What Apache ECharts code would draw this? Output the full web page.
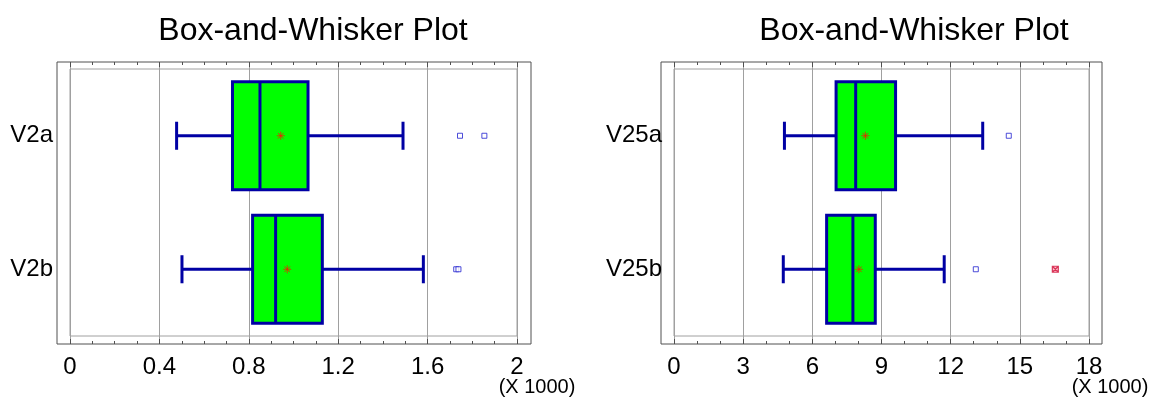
<!DOCTYPE html>
<html>
<head>
<meta charset="utf-8">
<script src="https://cdn.jsdelivr.net/npm/echarts@6/dist/echarts.min.js"></script>
<style>html,body{margin:0;padding:0;background:#fff}#c{width:1156px;height:397px}</style>
</head>
<body>
<div id="c"></div>
<script>
// ---- data (values in thousands) ----
const catsLeft = ['V2a', 'V2b'];
// [category index, lower whisker, Q1, median, Q3, upper whisker]
const boxLeft = [
  [0, 0.477, 0.727, 0.850, 1.065, 1.490],
  [1, 0.501, 0.817, 0.920, 1.129, 1.581]
];
const meanLeft = [[0.943, 'V2a'], [0.972, 'V2b']];
const outLeft = [[1.745, 'V2a'], [1.854, 'V2a'], [1.728, 'V2b'], [1.738, 'V2b']];
const farOutLeft = [];

const catsRight = ['V25a', 'V25b'];
const boxRight = [
  [0, 4.79, 7.03, 7.88, 9.61, 13.39],
  [1, 4.74, 6.62, 7.76, 8.73, 11.72]
];
const meanRight = [[8.30, 'V25a'], [8.02, 'V25b']];
const outRight = [[14.52, 'V25a'], [13.09, 'V25b']];
const farOutRight = [[16.54, 'V25b']];

const ticksLeft = {min: 0, max: 2, interval: 0.4, minorSplit: 4};
const ticksRight = {min: 0, max: 18, interval: 3, minorSplit: 3};

const titleText = 'Box-and-Whisker Plot';
const unitText = '(X 1000)';

// ---- styles ----
const FONT = '"Liberation Sans", Arial, sans-serif';
const BLUE = '#0000a4';
const GREEN = '#00ff00';
const GRIDC = '#a0a0a0';
const FRAMEC = '#505050';

function renderBox(params, api) {
  const cat = api.value(0);
  const lo = api.coord([api.value(1), cat]);
  const q1 = api.coord([api.value(2), cat]);
  const md = api.coord([api.value(3), cat]);
  const q3 = api.coord([api.value(4), cat]);
  const hi = api.coord([api.value(5), cat]);
  const band = api.size([0, 1])[1];
  const bh = band * 0.81, ch = band * 0.21;
  const y = lo[1];
  const ls = {stroke: BLUE, lineWidth: 3, fill: null};
  return {
    type: 'group',
    children: [
      {type: 'line', shape: {x1: lo[0], y1: y, x2: q1[0], y2: y}, style: ls},
      {type: 'line', shape: {x1: q3[0], y1: y, x2: hi[0], y2: y}, style: ls},
      {type: 'line', shape: {x1: lo[0], y1: y - ch / 2, x2: lo[0], y2: y + ch / 2}, style: ls},
      {type: 'line', shape: {x1: hi[0], y1: y - ch / 2, x2: hi[0], y2: y + ch / 2}, style: ls},
      {type: 'rect', shape: {x: q1[0], y: y - bh / 2, width: q3[0] - q1[0], height: bh},
        style: {fill: GREEN, stroke: BLUE, lineWidth: 3}},
      {type: 'line', shape: {x1: md[0], y1: y - bh / 2, x2: md[0], y2: y + bh / 2}, style: ls}
    ]
  };
}

const ASTER = 'path://M0,5L10,5M5,0L5,10M1.5,1.5L8.5,8.5M8.5,1.5L1.5,8.5';
const CROSSBOX = 'path://M0,0L10,0L10,10L0,10ZM0,0L10,10M10,0L0,10';

function panel(gi, xi, yi, frame, tk, cats, box, mean, out, farOut) {
  const grids = [
    {left: frame.left, top: 62, width: frame.width, height: 282, show: true,
      borderColor: FRAMEC, borderWidth: 1, backgroundColor: 'transparent', containLabel: false},
    {left: frame.plotLeft, top: 62, width: frame.plotWidth, height: 282, containLabel: false},
    {left: frame.plotLeft, top: 69, width: frame.plotWidth, height: 267, show: true,
      borderColor: GRIDC, borderWidth: 1, backgroundColor: 'transparent', containLabel: false}
  ];
  const xAxes = [
    {gridIndex: gi, type: 'value', show: false, min: 0, max: 1},
    {gridIndex: gi + 1, type: 'value', position: 'bottom', min: tk.min, max: tk.max, interval: tk.interval,
      axisLine: {show: false},
      axisTick: {show: true, inside: true, length: 5, lineStyle: {color: FRAMEC}},
      minorTick: {show: true, splitNumber: tk.minorSplit, length: 3, lineStyle: {color: FRAMEC}},
      splitLine: {show: true, lineStyle: {color: GRIDC, width: 1}},
      axisLabel: {fontSize: 24, color: '#000', fontFamily: FONT, margin: 11, showMinLabel: true, showMaxLabel: true}},
    {gridIndex: gi + 1, type: 'value', position: 'top', min: tk.min, max: tk.max, interval: tk.interval,
      axisLine: {show: false},
      axisTick: {show: true, inside: true, length: 5, lineStyle: {color: FRAMEC}},
      minorTick: {show: true, splitNumber: tk.minorSplit, length: 3, lineStyle: {color: FRAMEC}},
      splitLine: {show: false}, axisLabel: {show: false}},
    {gridIndex: gi + 2, type: 'value', show: false, min: tk.min, max: tk.max, interval: tk.interval}
  ];
  const yAxes = [
    {gridIndex: gi, type: 'value', show: false, min: 0, max: 1},
    {gridIndex: gi + 1, type: 'value', show: false, min: 0, max: 1},
    {gridIndex: gi + 2, type: 'category', data: cats, inverse: true,
      axisLine: {show: false}, axisTick: {show: false}, splitLine: {show: false},
      axisLabel: {fontSize: 24, color: '#000', fontFamily: FONT, margin: frame.labelMargin}}
  ];
  const series = [
    {type: 'custom', xAxisIndex: xi + 3, yAxisIndex: yi + 2, renderItem: renderBox,
      encode: {x: [1, 2, 3, 4, 5], y: 0}, data: box, z: 3},
    {type: 'scatter', xAxisIndex: xi + 3, yAxisIndex: yi + 2, data: mean, symbol: ASTER, symbolSize: 8,
      itemStyle: {color: 'transparent', borderColor: '#f02000', borderWidth: 1}, z: 5},
    {type: 'scatter', xAxisIndex: xi + 3, yAxisIndex: yi + 2, data: out, symbol: 'rect', symbolSize: 5,
      itemStyle: {color: '#ffffff', borderColor: '#2020d0', borderWidth: 1}, z: 5},
    {type: 'scatter', xAxisIndex: xi + 3, yAxisIndex: yi + 2, data: farOut, symbol: CROSSBOX, symbolSize: 6,
      itemStyle: {color: '#ffb0c0', borderColor: '#d0103a', borderWidth: 1.2}, z: 5}
  ];
  return {grids, xAxes, yAxes, series};
}

const L = panel(0, 0, 0, {left: 57, width: 474, plotLeft: 70, plotWidth: 447, labelMargin: 17},
  ticksLeft, catsLeft, boxLeft, meanLeft, outLeft, farOutLeft);
const R = panel(3, 4, 3, {left: 661, width: 441, plotLeft: 674, plotWidth: 415, labelMargin: 12},
  ticksRight, catsRight, boxRight, meanRight, outRight, farOutRight);

const option = {
  animation: false,
  backgroundColor: '#ffffff',
  title: [
    {text: titleText, left: 313, top: 15, textAlign: 'center', padding: 0,
      textStyle: {fontSize: 32, fontWeight: 'normal', color: '#000', fontFamily: FONT}},
    {text: titleText, left: 914, top: 15, textAlign: 'center', padding: 0,
      textStyle: {fontSize: 32, fontWeight: 'normal', color: '#000', fontFamily: FONT}}
  ],
  graphic: [
    {type: 'text', x: 537, y: 387, style: {text: unitText, fontSize: 20, fontFamily: FONT, fill: '#000',
      align: 'center', verticalAlign: 'middle'}},
    {type: 'text', x: 1110, y: 387, style: {text: unitText, fontSize: 20, fontFamily: FONT, fill: '#000',
      align: 'center', verticalAlign: 'middle'}}
  ],
  grid: L.grids.concat(R.grids),
  xAxis: L.xAxes.concat(R.xAxes),
  yAxis: L.yAxes.concat(R.yAxes),
  series: L.series.concat(R.series)
};

const chart = echarts.init(document.getElementById('c'), null, {renderer: 'canvas'});
chart.setOption(option);
</script>
</body>
</html>
